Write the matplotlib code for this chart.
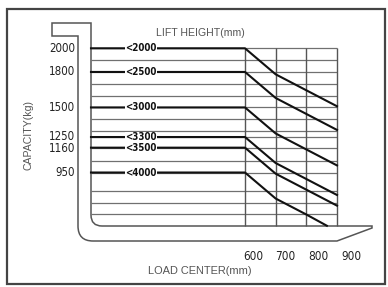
import matplotlib
matplotlib.use("Agg")
import matplotlib.pyplot as plt
from matplotlib import font_manager as fm
from matplotlib import transforms
from matplotlib.path import Path
from matplotlib.patches import PathPatch

# ---------------- data ----------------
capacities = [2000, 1800, 1500, 1250, 1160, 950]
lift_labels = ["<2000", "<2500", "<3000", "<3300", "<3500", "<4000"]
load_centers = [600, 700, 800, 900]
curve_2000 = [2000, 1780, 1645, 1510]
curve_1800 = [1800, 1580, 1445, 1310]
curve_1500 = [1500, 1280, 1145, 1010]
curve_1250 = [1250, 1030, 895, 760]
curve_1160 = [1160, 940, 805, 670]
curve_950_lc = [600, 700, 800, 867]
curve_950 = [950, 730, 595, 500]
grid_kg = [1900, 1700, 1600, 1400, 1300, 1050, 790, 690, 600]
xtick_values = [600, 700, 800, 900]
xtick_labels = ["600", "700", "800", "900"]
ytick_labels = ["2000", "1800", "1500", "1250", "1160", "950"]


def find_narrow(bold=False):
    cands = []
    for f in fm.fontManager.ttflist:
        nm = (f.name + " " + f.fname).lower()
        st = str(f.stretch).lower()
        narrowish = ("narrow" in nm or "condensed" in nm or "cond" in st
                     or st in ("semi-condensed", "condensed", "extra-condensed"))
        if not narrowish or f.style != "normal":
            continue
        w = f.weight if isinstance(f.weight, int) else (700 if "bold" in str(f.weight) else 400)
        if "extra" in nm or "ultra" in nm or "semi" in nm:
            pri = 1
        else:
            pri = 0
        cands.append((pri, abs(w - (700 if bold else 400)), f.fname))
    if cands:
        cands.sort()
        return fm.FontProperties(fname=cands[0][2])
    return None


fp_narrow = find_narrow(False)
fp_narrow_b = find_narrow(True)
scale = 1.0
if fp_narrow is None:
    fp_narrow = fm.FontProperties(family="DejaVu Sans")
    fp_narrow_b = fm.FontProperties(family="DejaVu Sans", weight="bold")
    scale = 0.82


def fprop(base, size):
    p = base.copy()
    p.set_size(size * scale)
    return p


W, H = 388, 287
fig = plt.figure(figsize=(W / 100, H / 100), dpi=100)
fig.patch.set_facecolor("white")

bg = fig.add_axes([0, 0, 1, 1])
bg.set_xlim(0, W)
bg.set_ylim(H, 0)
bg.axis("off")

ax = fig.add_axes([0, 0, 1, 1], zorder=2)
ax.patch.set_alpha(0)
ax.axis("off")
px_per_mm = 92 / 300.0
px_per_kg = 0.1183
ax.set_xlim(600 - 245 / px_per_mm, 600 + (W - 245) / px_per_mm)
ax.set_ylim(2000 - (H - 48.3) / px_per_kg, 2000 + 48.3 / px_per_kg)

x_left = 600 - (245 - 91) / px_per_mm
fork_top = 2000 - (226 - 48.3) / px_per_kg

# outer frame
bg.add_patch(plt.Rectangle((7, 9), 378, 275, fill=False, ec="#444444", lw=1.6))

# fork outline
verts = [
    (52, 23), (91, 23), (91, 215), (91, 226), (102, 226), (372, 226),
    (372, 228), (337, 241), (93, 241), (78, 241), (78, 226), (78, 36),
    (52, 36), (52, 23),
]
codes = [Path.MOVETO, Path.LINETO, Path.LINETO, Path.CURVE3, Path.CURVE3,
         Path.LINETO, Path.LINETO, Path.LINETO, Path.LINETO, Path.CURVE3,
         Path.CURVE3, Path.LINETO, Path.LINETO, Path.CLOSEPOLY]
bg.add_patch(PathPatch(Path(verts, codes), fill=False, ec="#555555", lw=1.1))

# grid
gray = "#707070"
ax.hlines(grid_kg + capacities, x_left, 900, color=gray, lw=0.9, zorder=2)
ax.vlines(xtick_values, fork_top, 2000, color="#555555", lw=1.0, zorder=2)

# capacity curves
series = [
    (load_centers, curve_2000),
    (load_centers, curve_1800),
    (load_centers, curve_1500),
    (load_centers, curve_1250),
    (load_centers, curve_1160),
    (curve_950_lc, curve_950),
]
for lc, vals in series:
    ax.plot([x_left] + list(lc), [vals[0]] + list(vals), color="#111111",
            lw=1.5, zorder=3, solid_joinstyle="round")

# lift height labels on lines
blend_y = transforms.blended_transform_factory(bg.transData, ax.transData)
for cap, lab in zip(capacities, lift_labels):
    ax.text(141, cap, lab, transform=blend_y, ha="center", va="center",
            fontproperties=fprop(fp_narrow_b, 7), color="#111111",
            zorder=4, bbox=dict(boxstyle="square,pad=0.05", fc="white", ec="none"))

# y tick labels (1250 / 1160 nudged apart slightly, as in the reference)
nudge = {1250: 1.0, 1160: -1.0}
for cap, lab in zip(capacities, ytick_labels):
    tr = blend_y + transforms.ScaledTranslation(0, nudge.get(cap, 0) / 100,
                                                fig.dpi_scale_trans)
    ax.text(75, cap, lab, transform=tr, ha="right", va="center",
            fontproperties=fprop(fp_narrow, 8.3), color="#222222")

# x tick labels
blend_x = transforms.blended_transform_factory(ax.transData, bg.transData)
for v, lab in zip(xtick_values, xtick_labels):
    off = (8 + (v - 600) / 100 * 2) / px_per_mm
    ax.text(v + off, 256, lab, transform=blend_x, ha="center", va="center",
            fontproperties=fprop(fp_narrow, 8.5), color="#222222")

# axis titles
bg.text(200, 33, "LIFT HEIGHT(mm)", ha="center", va="center", fontsize=7.6,
        family="Liberation Sans", color="#555555")
bg.text(200, 271, "LOAD CENTER(mm)", ha="center", va="center", fontsize=7.9,
        family="Liberation Sans", color="#555555")
bg.text(29, 135, "CAPACITY(kg)", ha="center", va="center", rotation=90,
        fontsize=7.6, family="Liberation Sans", color="#555555")

fig.savefig("out.png", dpi=100, facecolor="white")
